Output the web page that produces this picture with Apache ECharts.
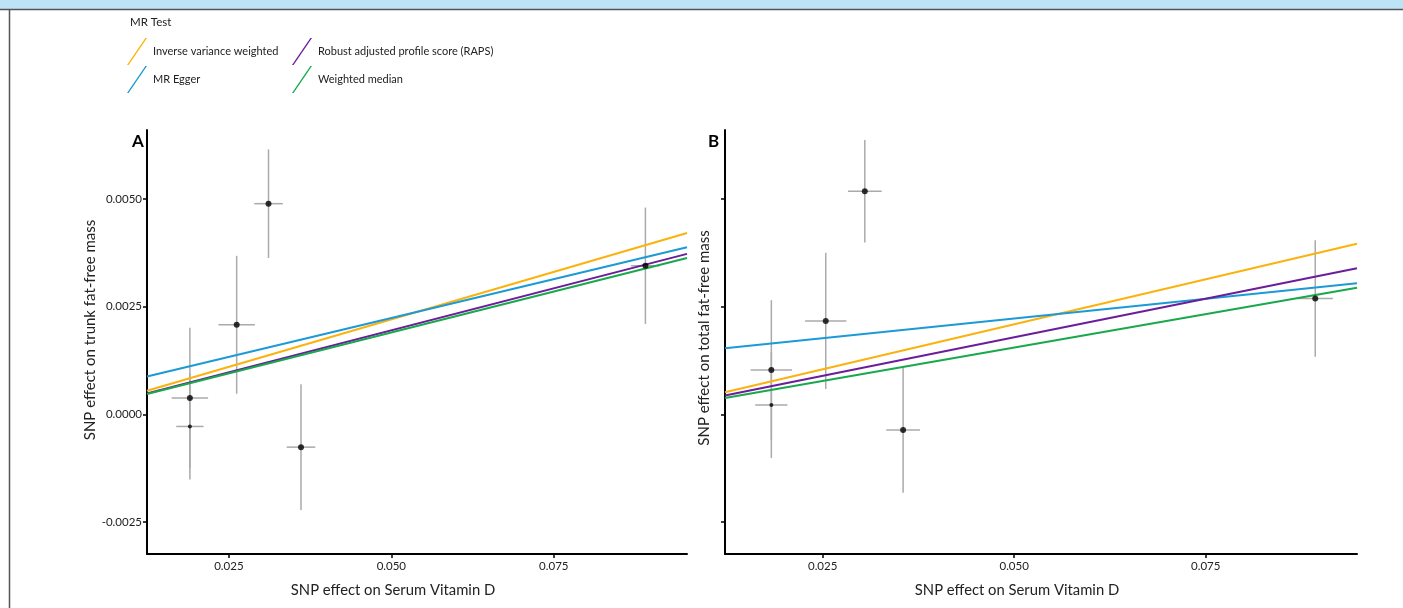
<!DOCTYPE html>
<html>
<head>
<meta charset="utf-8">
<script src="https://cdn.jsdelivr.net/npm/echarts@6/dist/echarts.min.js"></script>
<style>
  html, body { margin: 0; padding: 0; background: #fff; }
  #chart { width: 1403px; height: 608px; }
</style>
</head>
<body>
<div id="chart"></div>
<script>
// methods
var methods = ['Inverse variance weighted', 'MR Egger', 'Robust adjusted profile score (RAPS)', 'Weighted median'];
var methodColors = ['#FBB20D', '#1C9AD6', '#6A1E9A', '#19A84B'];

// panel A: trunk fat-free mass
var aX = [0.0190, 0.0190, 0.0262, 0.0311, 0.0361, 0.0891];
var aY = [0.00038, -0.00028, 0.00208, 0.00489, -0.00076, 0.00345];
var aXErr = [0.0028, 0.0021, 0.0028, 0.0022, 0.0022, 0.0022];
var aYErr = [0.00163, 0.00123, 0.00160, 0.00126, 0.00146, 0.00135];
var aSlope = [0.0441, 0.0361, 0.0390, 0.0380];
var aIntercept = [0, 0.00043, 0, 0];

// panel B: total fat-free mass
var bX = [0.0183, 0.0183, 0.0254, 0.0305, 0.0355, 0.0893];
var bY = [0.00103, 0.00022, 0.00217, 0.00518, -0.00036, 0.00269];
var bXErr = [0.0027, 0.0021, 0.0027, 0.0022, 0.0022, 0.0023];
var bYErr = [0.00162, 0.00123, 0.00158, 0.00119, 0.00146, 0.00135];
var bSlope = [0.0418, 0.0183, 0.0358, 0.0310];
var bIntercept = [0, 0.00131, 0, 0];

// ticks
var xTicks = [0.025, 0.050, 0.075];
var yTicks = [-0.0025, 0.0000, 0.0025, 0.0050];
var xRangeA = [0.0124, 0.0955];
var xRangeB = [0.01225, 0.09475];
var yRange = [-0.00324, 0.0066];

var font = 'Lato';
var chart = echarts.init(document.getElementById('chart'));

function xAxis(idx, range) {
  return {
    type: 'value', gridIndex: idx, min: range[0], max: range[1],
    name: 'SNP effect on Serum Vitamin D', nameLocation: 'middle', nameGap: 29,
    nameTextStyle: { color: '#222', fontSize: 14.8, fontFamily: font, padding: [0, 48, 0, 0] },
    axisLine: { onZero: false, lineStyle: { color: '#000', width: 2 } },
    axisTick: { show: true, length: 4, lineStyle: { color: '#000', width: 1.5 }, customValues: xTicks },
    axisLabel: { color: '#222', fontSize: 11.5, fontFamily: font, margin: 6, customValues: xTicks,
      formatter: function (v) { return v.toFixed(3); } },
    splitLine: { show: false }
  };
}
function yAxis(idx, title, showLabels, gap, shift) {
  return {
    type: 'value', gridIndex: idx, min: yRange[0], max: yRange[1],
    name: title, nameLocation: 'middle', nameGap: gap, nameRotate: 90,
    nameTextStyle: { color: '#222', fontSize: 15, fontFamily: font, padding: [0, 0, 0, shift] },
    axisLine: { show: true, onZero: false, lineStyle: { color: '#000', width: 2 } },
    axisTick: { show: true, length: 4, lineStyle: { color: '#000', width: 1.5 }, customValues: yTicks },
    axisLabel: { show: showLabels, color: '#222', fontSize: 11.5, fontFamily: font, margin: 5, customValues: yTicks,
      formatter: function (v) { return v.toFixed(4); } },
    splitLine: { show: false }
  };
}

function errorBars(idx, xs, ys, xe, ye) {
  var data = xs.map(function (x, i) { return [x, ys[i], xe[i], ye[i]]; });
  return {
    type: 'custom', xAxisIndex: idx, yAxisIndex: idx, z: 1, silent: true,
    data: data,
    renderItem: function (params, api) {
      var x = api.value(0), y = api.value(1), dx = api.value(2), dy = api.value(3);
      var l = api.coord([x - dx, y]), r = api.coord([x + dx, y]);
      var t = api.coord([x, y + dy]), b = api.coord([x, y - dy]);
      var st = { stroke: '#aaaaaa', lineWidth: 1.5 };
      return { type: 'group', children: [
        { type: 'line', shape: { x1: l[0], y1: l[1], x2: r[0], y2: r[1] }, style: st },
        { type: 'line', shape: { x1: t[0], y1: t[1], x2: b[0], y2: b[1] }, style: st }
      ] };
    }
  };
}
function points(idx, xs, ys) {
  return {
    type: 'scatter', xAxisIndex: idx, yAxisIndex: idx, z: 3, silent: true,
    data: xs.map(function (x, i) { return { value: [x, ys[i]], symbolSize: i === 1 ? 4 : 6 }; }),
    itemStyle: { color: '#000' }
  };
}
function fitLines(idx, range, slopes, intercepts) {
  return methods.map(function (m, k) {
    return {
      name: m, type: 'line', xAxisIndex: idx, yAxisIndex: idx, z: 2,
      showSymbol: false, silent: true, animation: false,
      data: [[range[0], intercepts[k] + slopes[k] * range[0]], [range[1], intercepts[k] + slopes[k] * range[1]]],
      lineStyle: { color: methodColors[k], width: 2 },
      itemStyle: { color: methodColors[k] }
    };
  });
}

var legendIcon = 'path://M0,27 L1.6,27 L20,0 L18.4,0 Z';
function legend(left, names) {
  return {
    orient: 'vertical', left: left, top: 38, padding: 0, itemWidth: 20, itemHeight: 27, itemGap: 1,
    icon: legendIcon, data: names, selectedMode: false,
    textStyle: { color: '#222', fontSize: 11, fontFamily: font, padding: [0, 0, 0, 1] }
  };
}

chart.setOption({
  animation: false,
  backgroundColor: '#fff',
  grid: [
    { left: 147, top: 130, width: 540, height: 424 },
    { left: 725, top: 130, width: 632, height: 424 }
  ],
  xAxis: [xAxis(0, xRangeA), xAxis(1, xRangeB)],
  yAxis: [yAxis(0, 'SNP effect on trunk fat-free mass', true, 43, 24), yAxis(1, 'SNP effect on total fat-free mass', false, 13, 8)],
  legend: [legend(127, [methods[0], methods[1]]), legend(292, [methods[2], methods[3]])],
  graphic: [
    { type: 'rect', left: 0, top: 0, shape: { width: 1403, height: 9 }, style: { fill: '#bde4f6' } },
    { type: 'line', shape: { x1: 0, y1: 9.5, x2: 1403, y2: 9.5 }, style: { stroke: '#555', lineWidth: 1.5 } },
    { type: 'line', shape: { x1: 9.5, y1: 9, x2: 9.5, y2: 608 }, style: { stroke: '#555', lineWidth: 1.5 } },
    { type: 'text', left: 130, top: 16, style: { text: 'MR Test', fill: '#222', fontSize: 11.5, fontFamily: font } },
    { type: 'text', left: 132, top: 133, style: { text: 'A', fill: '#000', fontSize: 17, fontWeight: 'bold', fontFamily: font } },
    { type: 'text', left: 708, top: 133, style: { text: 'B', fill: '#000', fontSize: 17, fontWeight: 'bold', fontFamily: font } }
  ],
  series: [].concat(
    [errorBars(0, aX, aY, aXErr, aYErr), points(0, aX, aY)],
    fitLines(0, xRangeA, aSlope, aIntercept),
    [errorBars(1, bX, bY, bXErr, bYErr), points(1, bX, bY)],
    fitLines(1, xRangeB, bSlope, bIntercept)
  )
});
</script>
</body>
</html>
